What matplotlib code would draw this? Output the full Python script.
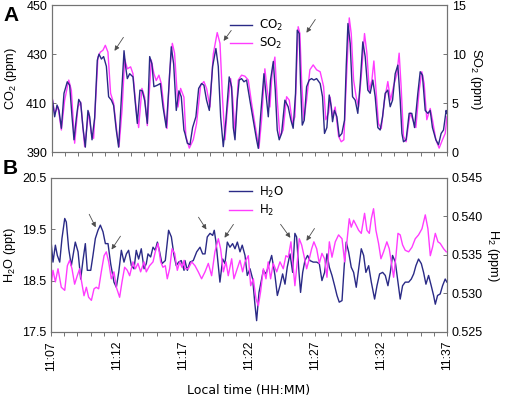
import numpy as np
import matplotlib
matplotlib.use("Agg")
import matplotlib.pyplot as plt

plt.rcParams['font.family'] = ['Liberation Sans', 'DejaVu Sans']
plt.rcParams['mathtext.default'] = 'regular'

# ---- data (time in minutes after 11:07) ----
co2_t = [0.00, 0.20, 0.38, 0.53, 0.71, 0.91, 1.16, 1.34, 1.52, 1.67, 1.85, 2.03, 2.18, 2.35, 2.53,
         2.73, 2.86, 3.04, 3.24, 3.44, 3.57, 3.75, 3.92, 4.13, 4.30, 4.51, 4.68, 4.88, 5.06, 5.26,
         5.47, 5.59, 5.72, 5.90, 6.15, 6.33, 6.48, 6.68, 6.86, 7.04, 7.24, 7.42, 7.59, 7.74, 8.00,
         8.23, 8.43, 8.68, 8.86, 9.06, 9.24, 9.44, 9.64, 9.82, 10.02,
         10.10, 10.28, 10.48, 10.68, 10.93, 11.14, 11.36, 11.54, 11.74, 11.95, 12.20, 12.45, 12.63,
         12.81, 13.01, 13.21, 13.46, 13.64, 13.77, 13.90, 14.07, 14.22, 14.40, 14.58, 14.78, 15.03,
         15.29, 15.54, 15.67, 15.84, 16.10, 16.25, 16.43, 16.60, 16.81, 16.96, 17.11, 17.26, 17.44,
         17.69, 17.94, 18.15, 18.32, 18.50, 18.63, 18.78, 18.88, 19.01, 19.16, 19.34, 19.54, 19.72,
         19.89, 20.10,
         20.37, 20.55, 20.70, 20.88, 21.06, 21.21, 21.31, 21.46, 21.64, 21.82, 22.02, 22.22, 22.35,
         22.48, 22.65, 22.83, 23.03, 23.23, 23.41, 23.61, 23.79, 23.99, 24.17, 24.37, 24.55, 24.75,
         24.93, 25.11, 25.31, 25.51, 25.69, 25.87, 26.07, 26.27, 26.45, 26.58, 26.70, 26.90, 27.13,
         27.33, 27.54, 27.79, 27.97, 28.14, 28.35, 28.55, 28.73, 28.90, 29.16, 29.36, 29.56, 29.74,
         29.94, 30.00]
co2_ppm = [412.6, 404.4, 409.2, 407, 399.7, 414, 418.7, 417.3, 404.4, 395, 404, 411.5, 410, 400, 392,
           407, 404.4, 395, 404, 427.5, 430, 428, 429, 425, 412.6, 411.2, 409, 399, 392, 411,
           431.4, 425, 420, 422, 420.7, 410, 401.7, 415.3, 415, 411, 401.7, 429, 426, 416.7, 417.3,
           418, 408.5, 400, 415, 433, 426, 407, 415, 412.6, 399,
           397.6, 393.6, 393, 400, 404.4, 416, 418, 417.3, 411.2, 407, 425, 432.3, 425,
           404.4, 392.2, 403, 420.7, 416.7, 400, 395, 411, 419.4, 420, 418.7, 419.4, 411.2,
           403, 395, 391.5, 404.4, 422, 414, 404.4, 419.4, 427, 415.3, 399, 395, 397.6,
           411.2, 408.5, 403, 399.7, 414, 439.8, 438.4, 418, 401, 403, 416.7, 419.4, 420,
           419.4, 420,
           418, 412.6, 397.6, 400, 413.3, 408.5, 402.4, 407, 404.4, 396.3, 397.6, 403, 425,
           442.5, 434.4, 412.6, 411.2, 405.8, 418, 435, 429, 415.3, 414, 419.4, 412.6, 400,
           399, 404.4, 414, 415.3, 408.5, 411.2, 422, 425.5, 411.2, 397.6, 394.2, 395, 405.8,
           405.8, 400, 414, 422.8, 421.4, 407, 405.8, 407, 400, 395, 393, 397.6, 399,
           407, 405.8]

so2_t = [0.00, 0.20, 0.46, 0.71, 0.96, 1.27, 1.47, 1.72, 1.97, 2.18, 2.48, 2.78, 2.99, 3.16, 3.49,
         3.67, 3.87, 4.05, 4.25, 4.45, 4.68, 4.94, 5.09, 5.32, 5.52, 5.72, 5.97, 6.15, 6.40, 6.58,
         6.83, 7.04, 7.24, 7.54, 7.74, 7.92, 8.12, 8.30, 8.55, 8.73, 8.93, 9.14, 9.31, 9.57, 9.77,
         10.02,
         10.17, 10.43, 10.73, 10.98, 11.29, 11.54, 11.74, 12.00, 12.25, 12.55, 12.76, 12.96, 13.14,
         13.31, 13.57, 13.72, 13.90, 14.15, 14.40, 14.65, 14.91, 15.16, 15.41, 15.72, 15.92, 16.17,
         16.35, 16.55, 16.73, 16.93, 17.11, 17.31, 17.56, 17.82, 18.02, 18.27, 18.45, 18.70, 18.83,
         18.96, 19.13, 19.34, 19.59, 19.84, 20.10,
         20.37, 20.63, 20.80, 21.01, 21.13, 21.31, 21.51, 21.77, 21.97, 22.17, 22.35, 22.58, 22.73,
         22.91, 23.11, 23.29, 23.49, 23.74, 23.92, 24.10, 24.30, 24.45, 24.63, 24.80, 25.01, 25.26,
         25.51, 25.72, 25.94, 26.20, 26.37, 26.52, 26.70, 26.90, 27.21, 27.41, 27.64, 27.89, 28.09,
         28.27, 28.47, 28.73, 28.90, 29.16, 29.41, 29.66, 29.87, 30.00]
so2_ppm = [5.65, 3.95, 4.6, 2.25, 5.3, 7.35, 6.3, 0.9, 4.6, 5.1, 0.55, 4.1, 1.9, 1.4, 9.7,
           10.2, 10.4, 10.9, 10.2, 6, 5, 1.9, 0.55, 4.3, 9.5, 8.5, 8.7, 8, 4.3, 2.5,
           6.5, 5.6, 2.7, 9.4, 8, 7.3, 7.85, 7, 3.95, 2.4, 8, 11.1, 10.1, 4.6, 6.5,
           5.6,
           1.6, 0.4, 1.25, 2.9, 6.8, 7.2, 6.5, 4.6, 10, 12.2, 11.1, 5.3, 1.25,
           4.3, 7.5, 5.6, 1.9, 7.35, 7.85, 7.75, 7.35, 5, 2.9, 0.4, 3.3, 8.5,
           6.3, 4.6, 8.2, 9.7, 5.3, 1.6, 2.25, 5.65, 5.3, 2.9, 3.6, 12.8, 12.1,
           7.35, 3.3, 5.3, 8.4, 8.9, 8.4,
           8.2, 6.7, 3.3, 4, 5.6, 3.6, 4.6, 1.6, 1.05, 1.25, 7, 13.7, 12.1,
           7.35, 5.6, 4.6, 7.7, 12.1, 10.1, 6.3, 7.35, 9.3, 6, 2.9, 2.4, 5.3,
           7.2, 5.3, 6.7, 8, 10.1, 6.7, 1.6, 1.05, 4, 3.3, 2.5, 6.3, 8.2,
           7, 3.3, 4.45, 3.3, 1.25, 0.4, 1.25, 1.9, 3.6]

h2o_t = [0.00, 0.15, 0.33, 0.48, 0.66, 0.83, 1.04, 1.16, 1.34, 1.54, 1.84, 2.05, 2.25, 2.42, 2.60,
         2.75, 3.01, 3.18, 3.36, 3.56, 3.74, 3.94, 4.12, 4.32, 4.52, 4.77, 4.95, 5.13, 5.33, 5.53,
         5.71, 5.88, 6.09, 6.29, 6.46, 6.64, 6.84, 7.05, 7.22, 7.35, 7.55, 7.73, 7.90, 8.06, 8.23,
         8.41, 8.66, 8.91, 9.12, 9.32, 9.49, 9.67, 9.87, 10.08,
         10.15, 10.33, 10.53, 10.78, 11.04, 11.29, 11.49, 11.67, 11.84, 12.05, 12.25, 12.37, 12.50,
         12.68, 12.80, 13.01, 13.18, 13.36, 13.56, 13.76, 13.94, 14.12, 14.32, 14.49, 14.70, 14.87,
         15.08, 15.28, 15.45, 15.58, 15.76, 15.91, 16.09, 16.29, 16.49, 16.72, 16.97, 17.15, 17.35,
         17.55, 17.73, 17.90, 18.11, 18.31, 18.48, 18.61, 18.79, 18.91, 19.07, 19.24, 19.44, 19.62,
         19.87, 20.13,
         20.33, 20.53, 20.73, 20.91, 21.09, 21.29, 21.49, 21.67, 21.84, 22.05, 22.22, 22.37, 22.55,
         22.75, 22.93, 23.13, 23.31, 23.51, 23.69, 23.86, 24.07, 24.27, 24.52, 24.70, 24.90, 25.13,
         25.33, 25.53, 25.71, 25.88, 26.09, 26.29, 26.46, 26.64, 26.84, 27.10, 27.30, 27.48, 27.65,
         27.85, 28.06, 28.23, 28.41, 28.61, 28.81, 28.99, 29.12, 29.29, 29.49, 29.67, 29.87, 30.00]
h2o_ppt = [19.28, 18.86, 19.19, 18.99, 18.86, 19.32, 19.71, 19.64, 19.12, 18.79, 19.25, 19.06, 18.53,
           18.89, 19.22, 18.70, 18.70, 18.99, 19.32, 19.48, 19.58, 19.45, 19.22, 19.22, 18.83, 18.47,
           18.37, 18.66, 19.09, 18.86, 19.02, 19.09, 18.79, 18.73, 19.09, 18.92, 19.12, 18.73, 18.83,
           19.02, 18.96, 19.15, 19.09, 19.25, 19.06, 18.83, 18.89, 19.48, 19.35, 18.99, 18.79, 18.86,
           18.89, 18.70,
           18.89, 18.70, 18.86, 18.89, 19.06, 19.15, 19.02, 19.02, 19.35, 19.42, 19.38, 19.48, 19.25,
           18.79, 18.47, 18.92, 18.83, 19.25, 19.15, 19.22, 19.12, 19.25, 19.06, 19.19, 18.99, 18.60,
           18.73, 18.53, 18.04, 17.72, 18.27, 18.47, 18.70, 18.63, 18.79, 18.99, 18.60, 18.21, 18.40,
           18.63, 18.43, 18.76, 19.02, 18.66, 19.42, 19.35, 18.66, 18.27, 18.66, 18.89, 18.99, 18.89,
           18.86, 18.86,
           18.83, 18.50, 18.66, 19.02, 18.76, 18.60, 18.40, 18.21, 18.08, 18.11, 18.79, 19.25, 19.06,
           18.76, 18.66, 18.37, 18.73, 19.12, 18.99, 18.66, 18.79, 18.47, 18.14, 18.40, 18.63, 18.66,
           18.60, 18.40, 18.66, 18.99, 18.86, 18.47, 18.14, 18.40, 18.47, 18.47, 18.53, 18.63, 18.79,
           18.92, 18.83, 18.66, 18.43, 18.60, 18.40, 18.21, 18.04, 18.21, 18.24, 18.40, 18.53, 18.47]

h2_t = [0.00, 0.15, 0.33, 0.53, 0.78, 1.04, 1.24, 1.41, 1.59, 1.79, 1.99, 2.17, 2.30, 2.50, 2.68,
        2.85, 3.06, 3.26, 3.43, 3.61, 3.81, 4.02, 4.19, 4.37, 4.57, 4.77, 4.95, 5.20, 5.38, 5.58,
        5.78, 5.96, 6.21, 6.39, 6.59, 6.79, 7.05, 7.22, 7.47, 7.73, 7.90, 8.11, 8.31, 8.48, 8.66,
        8.81, 8.99, 9.17, 9.37, 9.57, 9.75, 9.92, 10.08,
        10.15, 10.40, 10.66, 10.91, 11.16, 11.41, 11.67, 11.92, 12.17, 12.42, 12.68, 12.85, 13.06,
        13.26, 13.43, 13.69, 13.86, 14.07, 14.32, 14.52, 14.70, 14.95, 15.13, 15.33, 15.53, 15.71,
        15.88, 16.09, 16.29, 16.46, 16.64, 16.84, 17.10, 17.35, 17.60, 17.80, 17.98, 18.18, 18.36,
        18.48, 18.66, 18.81, 18.99, 19.17, 19.37, 19.57, 19.75, 19.92, 20.13,
        20.33, 20.53, 20.73, 20.91, 21.09, 21.29, 21.54, 21.79, 22.05, 22.25, 22.42, 22.60, 22.75,
        22.93, 23.11, 23.31, 23.51, 23.76, 23.94, 24.12, 24.27, 24.44, 24.62, 24.82, 25.00, 25.20,
        25.45, 25.63, 25.78, 25.96, 26.14, 26.29, 26.46, 26.64, 26.84, 27.10, 27.35, 27.60, 27.85,
        28.11, 28.36, 28.56, 28.74, 28.91, 29.12, 29.32, 29.49, 29.75, 29.95]
h2_ppm = [0.5310, 0.5330, 0.5315, 0.5332, 0.5308, 0.5304, 0.5336, 0.5343, 0.5332, 0.5312, 0.5323,
          0.5332, 0.5317, 0.5297, 0.5308, 0.5295, 0.5291, 0.5306, 0.5308, 0.5306, 0.5328, 0.5349,
          0.5354, 0.5341, 0.5319, 0.5328, 0.5308, 0.5295, 0.5315, 0.5334, 0.5330, 0.5323, 0.5341,
          0.5332, 0.5339, 0.5328, 0.5341, 0.5328, 0.5336, 0.5341, 0.5354, 0.5365, 0.5341, 0.5334,
          0.5336, 0.5319, 0.5332, 0.5358, 0.5352, 0.5330, 0.5341, 0.5334, 0.5343,
          0.5332, 0.5332, 0.5341, 0.5336, 0.5328, 0.5319, 0.5328, 0.5339, 0.5323, 0.5354, 0.5371,
          0.5358, 0.5328, 0.5341, 0.5323, 0.5345, 0.5319, 0.5330, 0.5343, 0.5328, 0.5341, 0.5349,
          0.5310, 0.5319, 0.5293, 0.5284, 0.5302, 0.5332, 0.5319, 0.5341, 0.5319, 0.5339, 0.5328,
          0.5341, 0.5332, 0.5349, 0.5347, 0.5367, 0.5332, 0.5310, 0.5341, 0.5371, 0.5363, 0.5349,
          0.5332, 0.5345, 0.5358, 0.5367, 0.5358,
          0.5339, 0.5352, 0.5345, 0.5321, 0.5367, 0.5347, 0.5367, 0.5376, 0.5371, 0.5341, 0.5367,
          0.5397, 0.5386, 0.5395, 0.5389, 0.5382, 0.5378, 0.5404, 0.5382, 0.5378, 0.5397, 0.5410,
          0.5382, 0.5365, 0.5345, 0.5354, 0.5367, 0.5358, 0.5341, 0.5321, 0.5349, 0.5378, 0.5376,
          0.5363, 0.5356, 0.5354, 0.5360, 0.5371, 0.5376, 0.5384, 0.5402, 0.5384, 0.5349, 0.5360,
          0.5378, 0.5367, 0.5365, 0.5358, 0.5354]

time_ticks = [0, 5, 10, 15, 20, 25, 30]
time_labels = ['11:07', '11:12', '11:17', '11:22', '11:27', '11:32', '11:37']

# arrows: (tail_t, tail_y, head_t, head_y)
arrows_a = [(5.54, 437.8, 4.63, 430.4), (13.74, 440.6, 12.91, 434.5), (20.12, 445.1, 19.21, 437.8)]
arrows_b = [(2.80, 19.84, 3.48, 19.49), (5.38, 19.41, 4.47, 19.06), (11.06, 19.78, 11.89, 19.45),
            (13.94, 19.64, 13.03, 19.29), (17.27, 19.64, 18.26, 19.29), (20.08, 19.56, 19.24, 19.23)]

blue = '#2a2a86'
pink = '#ff3cff'
spine_col = '0.45'
tick_fs = 9
label_fs = 9.2

fig = plt.figure(figsize=(5.05, 3.98), dpi=100)
axA = fig.add_axes([0.103, 0.618, 0.782, 0.369])
axB = fig.add_axes([0.101, 0.166, 0.784, 0.387])
axA2 = axA.twinx()
axB2 = axB.twinx()

l1, = axA.plot(co2_t, co2_ppm, color=blue, lw=1.0, label='CO$_2$')
l2, = axA2.plot(so2_t, so2_ppm, color=pink, lw=1.0, label='SO$_2$')
axA.set_zorder(axA2.get_zorder() + 1)
axA.patch.set_visible(False)

l3, = axB.plot(h2o_t, h2o_ppt, color=blue, lw=1.0, label='H$_2$O')
l4, = axB2.plot(h2_t, h2_ppm, color=pink, lw=1.0, label='H$_2$')

axA.set_xlim(0, 30)
axA.set_ylim(390, 450)
axA.set_yticks([390, 410, 430, 450])
axA2.set_ylim(0, 15)
axA2.set_yticks([0, 5, 10, 15])
axB.set_xlim(0, 30)
axB.set_ylim(17.5, 20.5)
axB.set_yticks([17.5, 18.5, 19.5, 20.5])
axB2.set_ylim(0.525, 0.545)
axB2.set_yticks([0.525, 0.530, 0.535, 0.540, 0.545])
axB2.set_yticklabels(['0.525', '0.530', '0.535', '0.540', '0.545'])

for ax in (axA, axB):
    ax.set_xticks(np.arange(0, 31, 1), minor=True)
    ax.set_xticks(time_ticks)
    ax.tick_params(axis='x', which='both', direction='out', length=3, width=0.7, color=spine_col)
    ax.tick_params(axis='y', direction='in', length=3, width=0.7, color=spine_col, labelsize=tick_fs)
axA.set_xticklabels([])
axB.set_xticklabels(time_labels, rotation=90, fontsize=8.7)
for ax in (axA2, axB2):
    ax.tick_params(axis='y', direction='in', length=3, width=0.7, color=spine_col, labelsize=tick_fs)

for ax in (axA, axA2, axB, axB2):
    for s in ax.spines.values():
        s.set_color(spine_col)
        s.set_linewidth(0.8)

axA.set_ylabel('CO$_2$ (ppm)', fontsize=label_fs, labelpad=5)
axA2.set_ylabel('SO$_2$ (ppm)', fontsize=label_fs, rotation=270, labelpad=13)
axB.set_ylabel('H$_2$O (ppt)', fontsize=label_fs, labelpad=3)
axB2.set_ylabel('H$_2$ (ppm)', fontsize=label_fs, rotation=270, labelpad=13)
axB.set_xlabel('Local time (HH:MM)', fontsize=9, family='DejaVu Sans', labelpad=10)

axA2.legend(handles=[l1, l2], loc='upper left', bbox_to_anchor=(0.435, 0.955),
            frameon=False, handlelength=1.9, handletextpad=0.6,
            labelspacing=0.3, borderpad=0, prop={'family': 'DejaVu Sans', 'size': 8.5})
axB2.legend(handles=[l3, l4], loc='upper left', bbox_to_anchor=(0.435, 0.995),
            frameon=False, handlelength=1.9, handletextpad=0.6,
            labelspacing=0.3, borderpad=0, prop={'family': 'DejaVu Sans', 'size': 8.5})

arrow_style = dict(arrowstyle='-|>', color='0.3', lw=0.6, mutation_scale=7)
for tt, ty, ht, hy in arrows_a:
    axA.annotate('', xy=(ht, hy), xytext=(tt, ty), arrowprops=arrow_style, annotation_clip=False)
for tt, ty, ht, hy in arrows_b:
    axB.annotate('', xy=(ht, hy), xytext=(tt, ty), arrowprops=arrow_style, annotation_clip=False)

fig.text(0.006, 0.985, 'A', fontsize=15, fontweight='bold', va='top', ha='left')
fig.text(0.006, 0.6, 'B', fontsize=15, fontweight='bold', va='top', ha='left')

fig.savefig('out.png', dpi=100)
